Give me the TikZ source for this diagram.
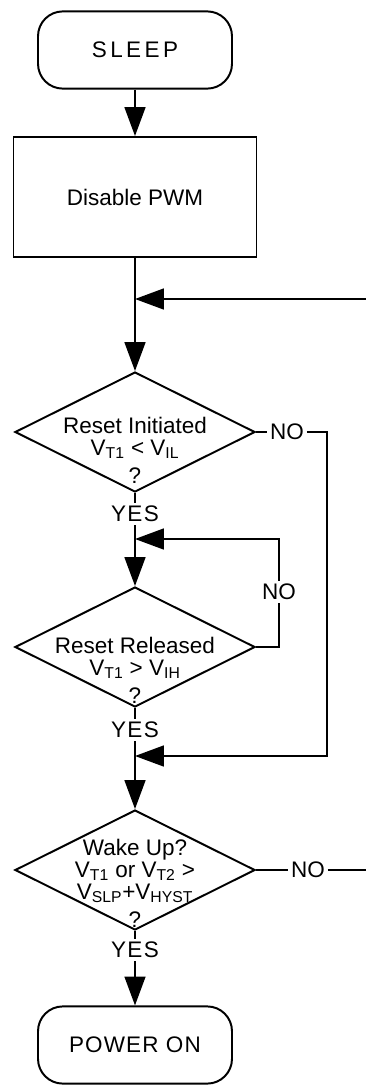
\documentclass[tikz,border=0pt]{standalone}
\usepackage{fontspec}
\setmainfont{Liberation Sans}
\usetikzlibrary{arrows.meta,positioning,shapes.geometric}

\begin{document}
\begin{tikzpicture}[line width=1.4pt, every node/.style={font=\fontsize{16pt}{0.55cm}\selectfont}]
\tikzset{term/.style={draw, rounded corners=0.62cm, minimum width=4.85cm, minimum height=1.93cm}}
\tikzset{proc/.style={draw, minimum width=6.075cm, minimum height=3cm}}
\tikzset{decision/.style={draw, diamond, minimum width=6cm, minimum height=3cm, inner sep=0pt}}
\tikzset{dtext/.style={anchor=north, align=center, inner sep=0pt}}
\tikzset{lbl/.style={inner sep=1.5pt}}
\tikzset{spaced/.style={font=\fontsize{16pt}{0.55cm}\selectfont\addfontfeature{LetterSpace=#1}}}
\tikzset{arr/.style={-{Triangle[length=0.72cm, width=0.52cm]}}}
\useasboundingbox (0,0) rectangle (9.15,-27.125);

% Top: sleep and PWM
\node[term, spaced=15] (sleep) at (3.375,-1.25) {SLEEP};
\node[proc] (pwm) at (3.375,-4.925) {Disable PWM};
\coordinate (m1) at (3.375,-7.475);
\coordinate (e1) at (9.15,-7.475);

% First check: reset initiated
\node[decision] (d1) at (3.375,-10.8) {};
\node[dtext] (t1) at (3.375,-10.4) {Reset Initiated\\V\textsubscript{T1} < V\textsubscript{IL}\\[0.15cm]?};
\node[lbl] (no1) at (7.175,-10.8) {NO};
\coordinate (r1) at (8.175,-18.9);
\node[lbl, spaced=6] (y1) at (3.375,-12.85) {YES};
\coordinate (m2) at (3.375,-13.475);

% Second check: reset released
\node[decision] (d2) at (3.375,-16.175) {};
\node[dtext] (t2) at (3.375,-15.9) {Reset Released\\V\textsubscript{T1} > V\textsubscript{IH}\\[0.15cm]?};
\node[lbl] (no2) at (6.975,-14.8) {NO};
\node[lbl, spaced=6] (y2) at (3.375,-18.25) {YES};
\coordinate (m3) at (3.375,-18.9);

% Bottom: wake up and power on
\node[decision] (d3) at (3.375,-21.75) {};
\node[dtext] (t3) at (3.375,-20.95) {Wake Up?\\V\textsubscript{T1} or V\textsubscript{T2} >\\V\textsubscript{SLP}+V\textsubscript{HYST}\\[0.15cm]?};
\node[lbl] (no3) at (7.7,-21.75) {NO};
\coordinate (e3) at (9.15,-21.75);
\node[lbl, spaced=6] (y3) at (3.375,-23.75) {YES};
\node[term, spaced=5] (on) at (3.375,-26.125) {POWER ON};

\draw[arr] (sleep) -- (pwm);
\draw[arr] (pwm.south) -- (d1.north);
\draw[arr] (e1) -- (m1);
\draw (d1.east) -- (no1);
\draw[arr] (no1) -| (r1) -- (m3);
\draw (d1.south) -- (y1);
\draw[arr] (y1) -- (d2.north);
\draw (d2.east) -| (no2);
\draw[arr] (no2) |- (m2);
\draw (d2.south) -- (y2);
\draw[arr] (y2) -- (d3.north);
\draw (d3.east) -- (no3);
\draw (no3) -- (e3);
\draw (d3.south) -- (y3);
\draw[arr] (y3) -- (on);
\end{tikzpicture}
\end{document}
